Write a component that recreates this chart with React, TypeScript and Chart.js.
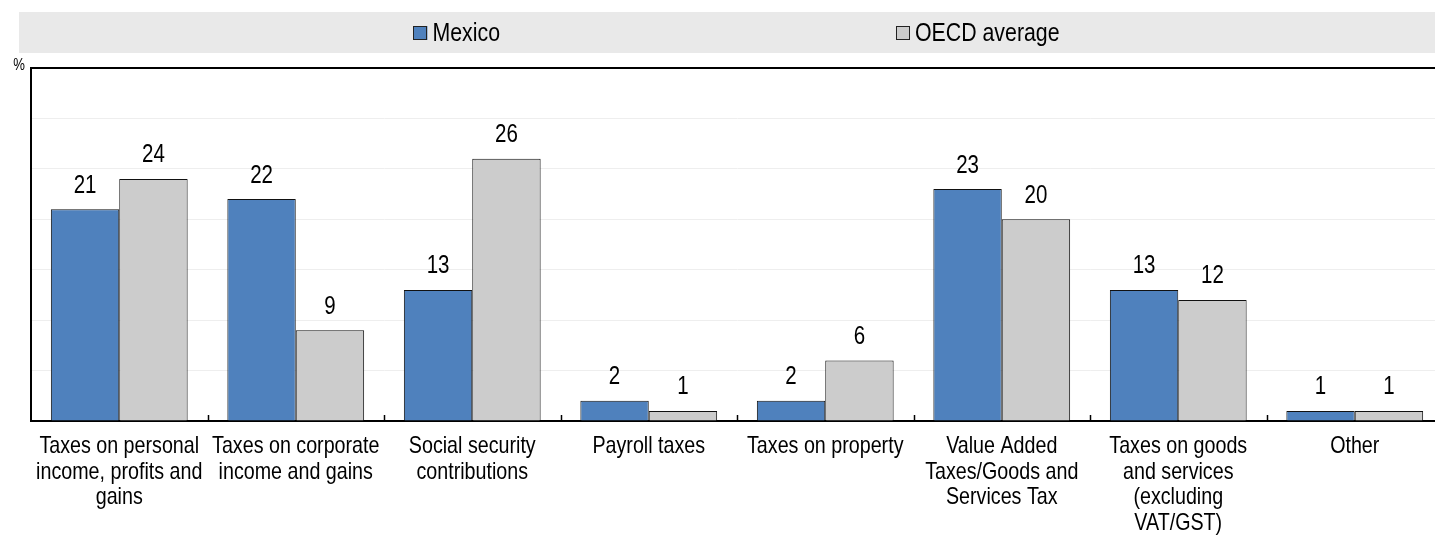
import React, { useEffect, useRef } from "react";
import { Chart, registerables } from "chart.js";

Chart.register(...registerables);

const categories: string[][] = [
  ["Taxes on personal", "income, profits and", "gains"],
  ["Taxes on corporate", "income and gains"],
  ["Social security", "contributions"],
  ["Payroll taxes"],
  ["Taxes on property"],
  ["Value Added", "Taxes/Goods and", "Services Tax"],
  ["Taxes on goods", "and services", "(excluding", "VAT/GST)"],
  ["Other"],
];

const mexicoValues: number[] = [21, 22, 13, 2, 2, 23, 13, 1];
const oecdValues: number[] = [24, 9, 26, 1, 6, 20, 12, 1];

const seriesLabels: string[] = ["Mexico", "OECD average"];
const yTicks: number[] = [0, 5, 10, 15, 20, 25, 30, 35];

const FONT = "'Liberation Sans', Arial, sans-serif";
const NARROW = 0.82;
const BLUE = "#4f81bd";
const GREY = "#cccccc";

function narrowText(ctx: CanvasRenderingContext2D, text: string, x: number, y: number) {
  ctx.save();
  ctx.translate(x, y);
  ctx.scale(NARROW, 1);
  ctx.fillText(text, 0, 0);
  ctx.restore();
}

const customPlugin = {
  id: "custom",
  beforeDraw(chart: any) {
    const { ctx, width } = chart;
    ctx.save();
    ctx.fillStyle = "#e9e9e9";
    ctx.fillRect(19, 12, width - 19, 41);
    ctx.restore();
  },
  afterDraw(chart: any) {
    const { ctx, chartArea } = chart;
    const xScale = chart.scales.x;
    ctx.save();
    // inward tick marks between categories
    const half = (xScale.getPixelForValue(1) - xScale.getPixelForValue(0)) / 2;
    ctx.strokeStyle = "#000";
    ctx.lineWidth = 1.5;
    for (let i = 1; i < categories.length; i++) {
      const x = Math.round(xScale.getPixelForValue(i) - half) + 0.5;
      ctx.beginPath();
      ctx.moveTo(x, chartArea.bottom);
      ctx.lineTo(x, chartArea.bottom - 6);
      ctx.stroke();
    }
    ctx.fillStyle = "#000";
    // category labels
    ctx.font = `24px ${FONT}`;
    ctx.textAlign = "center";
    ctx.textBaseline = "middle";
    categories.forEach((lines, i) => {
      const x = xScale.getPixelForValue(i);
      lines.forEach((line, li) => {
        narrowText(ctx, line, x, chartArea.bottom + 25.5 + li * 25.5);
      });
    });
    // data labels
    ctx.font = `25px ${FONT}`;
    ctx.textBaseline = "alphabetic";
    chart.data.datasets.forEach((ds: any, di: number) => {
      const meta = chart.getDatasetMeta(di);
      meta.data.forEach((bar: any, i: number) => {
        const v = ds.data[i];
        narrowText(ctx, String(Math.round(v)), bar.x, bar.y - 16.5);
      });
    });
    // "%" unit label
    ctx.font = `16px ${FONT}`;
    ctx.textAlign = "right";
    narrowText(ctx, "%", 25, 70);
    // legend
    ctx.font = `26px ${FONT}`;
    ctx.textBaseline = "middle";
    ctx.textAlign = "left";
    const colors = [BLUE, GREY];
    const box = 14;
    const gapBoxText = 5;
    const gapItems = 396;
    const widths = seriesLabels.map((l) => box + gapBoxText + ctx.measureText(l).width * NARROW);
    const total = widths.reduce((a, b) => a + b, 0) + gapItems * (seriesLabels.length - 1);
    let x = 736.5 - total / 2;
    const cy = 33;
    seriesLabels.forEach((l, i) => {
      ctx.fillStyle = colors[i];
      ctx.fillRect(x, cy - box / 2, box, box);
      ctx.strokeStyle = "#222";
      ctx.lineWidth = 1;
      ctx.strokeRect(Math.round(x) + 0.5, cy - box / 2 + 0.5, box - 1, box - 1);
      ctx.fillStyle = "#000";
      narrowText(ctx, l, x + box + gapBoxText, cy + 1);
      x += widths[i] + gapItems;
    });
    ctx.restore();
  },
};

export default function App() {
  const ref = useRef<HTMLCanvasElement | null>(null);
  useEffect(() => {
    if (!ref.current) return;
    const chart = new Chart(ref.current, {
      type: "bar",
      data: {
        labels: categories,
        datasets: [
          {
            label: seriesLabels[0],
            data: mexicoValues,
            backgroundColor: BLUE,
            borderColor: "#111",
            borderWidth: 1,
            categoryPercentage: 0.775,
            barPercentage: 1,
          },
          {
            label: seriesLabels[1],
            data: oecdValues,
            backgroundColor: GREY,
            borderColor: "#111",
            borderWidth: 1,
            categoryPercentage: 0.775,
            barPercentage: 1,
          },
        ],
      },
      options: {
        responsive: false,
        animation: false,
        layout: { padding: { left: 31, right: 2, top: 68, bottom: 0 } },
        plugins: {
          legend: { display: false },
          tooltip: { enabled: false },
        },
        scales: {
          x: {
            grid: { display: false, drawTicks: false },
            border: { display: true, color: "#000", width: 2 },
            ticks: { display: false },
            afterFit: (scale: any) => {
              scale.height = 114;
            },
          },
          y: {
            min: yTicks[0],
            max: yTicks[yTicks.length - 1],
            afterBuildTicks: (scale: any) => {
              scale.ticks = yTicks.map((v) => ({ value: v }));
            },
            ticks: { display: false },
            grid: {
              drawTicks: false,
              color: (c: any) => (c.tick && c.tick.value === 35 ? "#000" : c.tick && c.tick.value === 0 ? "rgba(0,0,0,0)" : "#eeeeee"),
              lineWidth: (c: any) => (c.tick && c.tick.value === 35 ? 2 : 1),
            },
            border: { display: true, color: "#000", width: 2 },
            afterFit: (scale: any) => {
              scale.width = 0;
            },
          },
        },
      },
      plugins: [customPlugin],
    });
    return () => chart.destroy();
  }, []);
  return (
    <div style={{ position: "absolute", left: 0, top: 0, width: 1435, height: 535, overflow: "hidden", background: "#fff" }}>
      <canvas ref={ref} width={1445} height={535} style={{ display: "block", width: 1445, height: 535 }} />
    </div>
  );
}
